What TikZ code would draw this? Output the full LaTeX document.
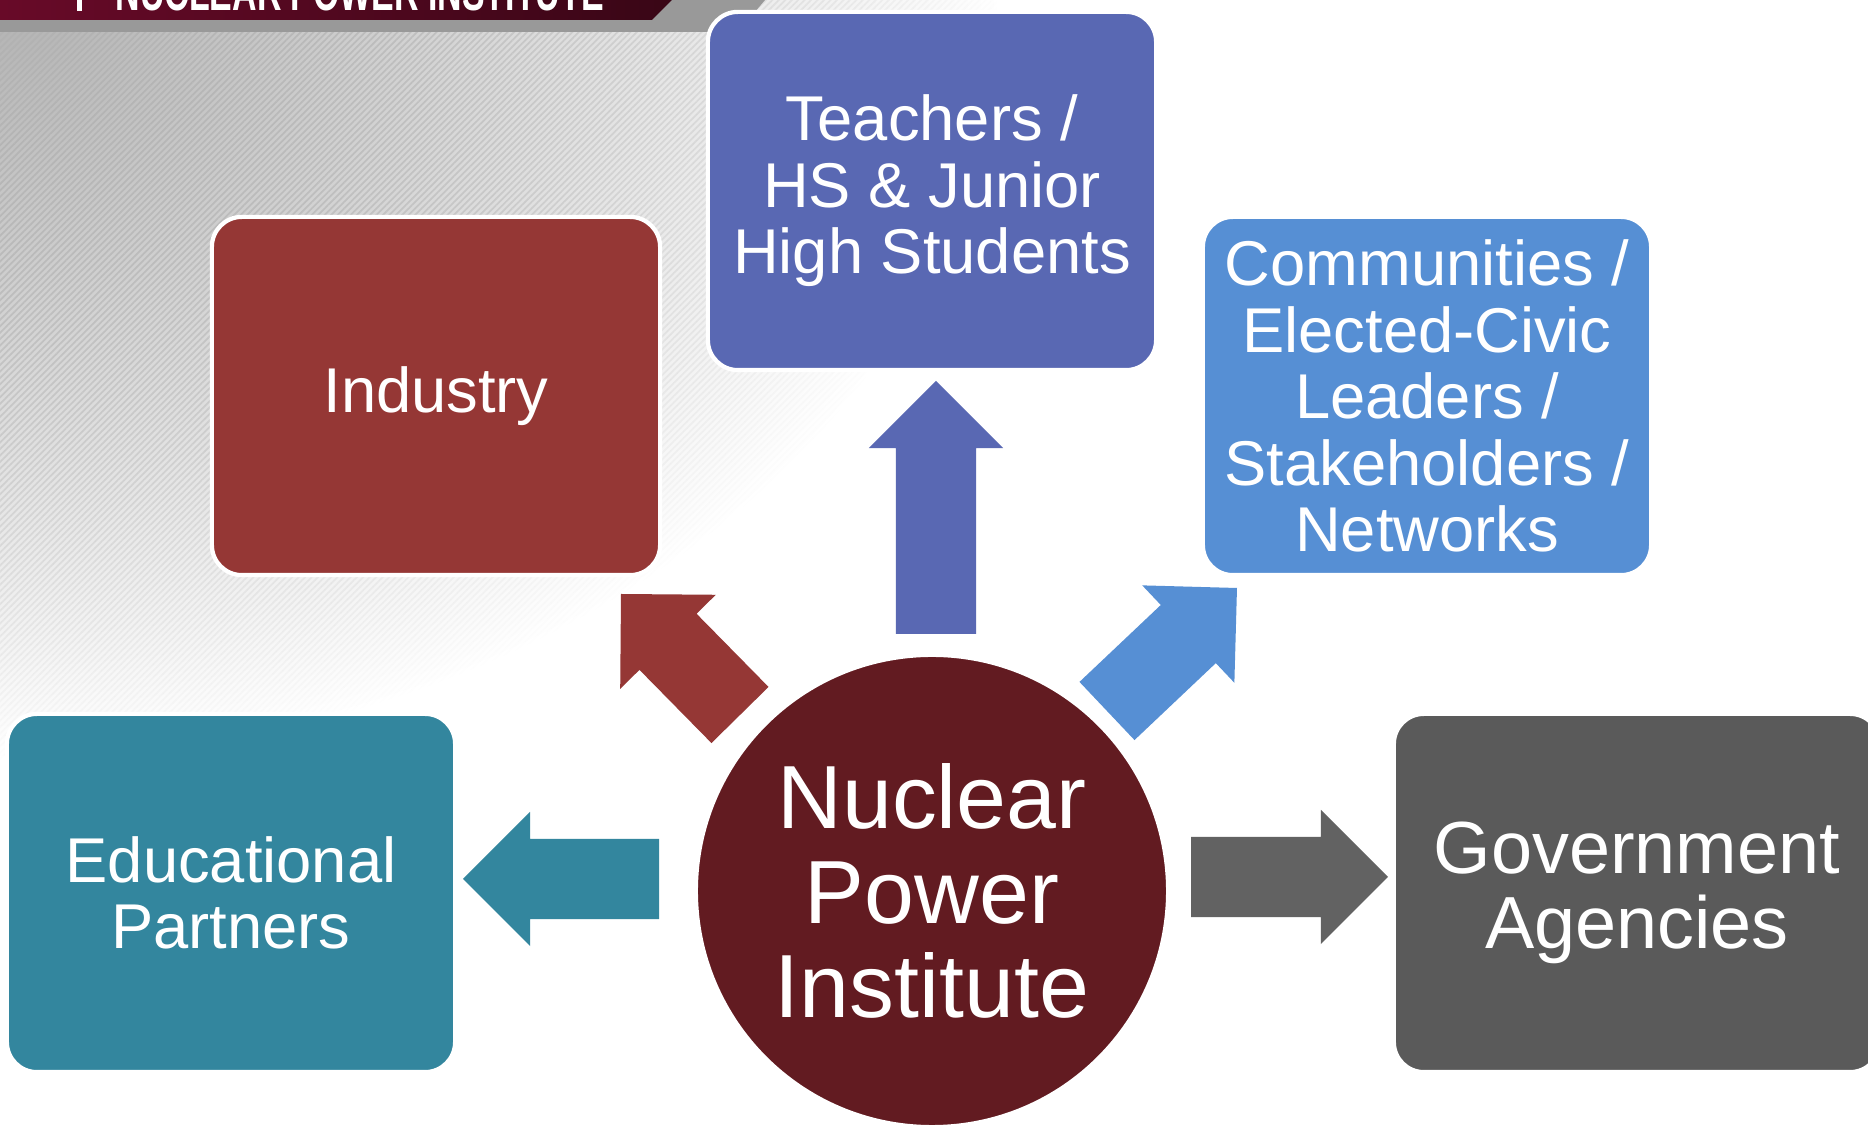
\documentclass[tikz,border=0pt]{standalone}
\usepackage{fontspec}
\setmainfont{Liberation Sans}
\usepackage{xcolor}
\usepackage{graphicx}
\usetikzlibrary{calc,positioning,fadings,patterns.meta}

\definecolor{indred}{RGB}{149,55,53}
\definecolor{teablue}{RGB}{89,104,179}
\definecolor{comblue}{RGB}{86,143,212}
\definecolor{eduteal}{RGB}{51,134,158}
\definecolor{govgray}{RGB}{90,90,90}
\definecolor{hubred}{RGB}{98,27,33}
\definecolor{bannerred}{RGB}{104,10,40}

\tikzfading[name=bg fade,inner color=transparent!0,outer color=transparent!100]

% fat arrow from tail #2 to tip #3
\newcommand{\blockarrow}[3]{%
  \coordinate (#2h) at ($(#3)!0.67cm!(#2)$);
  \fill[#1] ($(#2)!0.4cm!90:(#3)$) -- ($(#2h)!0.4cm!90:(#3)$) -- ($(#2h)!0.67cm!90:(#3)$) -- (#3)
    -- ($(#2h)!0.67cm!-90:(#3)$) -- ($(#2h)!0.4cm!-90:(#3)$) -- ($(#2)!0.4cm!-90:(#3)$) -- cycle;}

\begin{document}
\begin{tikzpicture}[x=0.01cm,y=-0.01cm,
    box node/.style={rectangle,rounded corners=0.3cm,draw=white,line width=1.2pt,
      minimum width=4.48cm,minimum height=3.58cm,inner sep=0pt,text=white,align=center,
      font=\fontsize{18}{18.9}\selectfont},
    hub node/.style={circle,draw=white,line width=1.2pt,fill=hubred,minimum size=4.72cm,
      inner sep=0pt,text=white,align=center,font=\fontsize{25.5}{27}\selectfont}]

  \useasboundingbox (0,0) rectangle (1868,1128);
  \clip (0,0) rectangle (1868,1128);

  % background
  \fill[white] (0,0) rectangle (1868,1128);
  \shade[inner color=black!30,outer color=white] (0,0) ellipse (1000 and 760);
  \fill[pattern={Lines[angle=45,distance=1.3pt,line width=0.5pt]},pattern color=black!30,
    path fading=bg fade] (0,0) ellipse (1000 and 760);

  % title bar
  \fill[black!40] (0,0) -- (765,0) -- (738,32) -- (0,32) -- cycle;
  \shade[left color=bannerred,right color=bannerred!55!black] (0,0) -- (672,0) -- (652,20) -- (0,20) -- cycle;
  \fill[white] (77,0) rectangle (82,11);
  \node[anchor=base west,inner sep=0pt,text=white,font=\bfseries\fontsize{15}{15}\selectfont]
    (title) at (115,11) {\scalebox{0.643}[1]{NUCLEAR POWER INSTITUTE}};

  \node[hub node] (hub) at (932,891) {Nuclear\\Power\\Institute};
  \node[box node,fill=indred] (ind) at (436,396) {Industry};
  \node[box node,fill=teablue] (tea) at (932,191) {Teachers /\\HS \& Junior\\High Students};
  \node[box node,fill=comblue] (com) at (1427,396) {Communities /\\Elected-Civic\\Leaders /\\Stakeholders /\\Networks};
  \node[box node,fill=eduteal] (edu) at (231,893) {Educational\\Partners};
  \node[box node,fill=govgray,minimum width=4.86cm,font=\fontsize{21}{21.5}\selectfont]
    (gov) at (1637,893) {Government\\Agencies};

  % arrow ends
  \coordinate (t1) at (740,715);  \coordinate (p1) at (621,594);
  \coordinate (t2) at (936,634);  \coordinate (p2) at (936,381);
  \coordinate (t3) at (1107,711); \coordinate (p3) at (1237,588);
  \coordinate (t4) at (659,879);  \coordinate (p4) at (463,879);
  \coordinate (t5) at (1191,877); \coordinate (p5) at (1388,877);

  \blockarrow{indred}{t1}{p1}
  \blockarrow{teablue}{t2}{p2}
  \blockarrow{comblue}{t3}{p3}
  \blockarrow{eduteal}{t4}{p4}
  \blockarrow{govgray!95!white}{t5}{p5}
\end{tikzpicture}
\end{document}
